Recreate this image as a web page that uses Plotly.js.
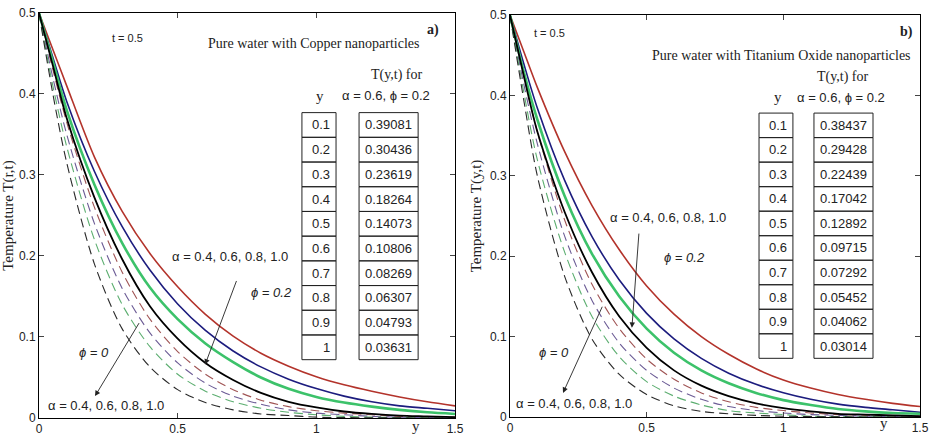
<!DOCTYPE html>
<html><head><meta charset="utf-8">
<script src="https://cdn.plot.ly/plotly-3.0.1.min.js"></script>
<style>body{margin:0;background:#fff}#g{width:933px;height:445px}</style>
</head><body><div id="g"></div>
<script>
// ---- data ----
const yPos = [0,0.05,0.1,0.2,0.3,0.4,0.5,0.6,0.7,0.8,0.9,1.0,1.1,1.2,1.3,1.4,1.5];
const alphas = ["0.4","0.6","0.8","1.0"];
// a) Copper, phi = 0.2 (solid)
const cuPhi02_a04 = [0.5,0.455,0.41,0.322,0.255,0.203,0.162,0.128,0.101,0.080,0.064,0.051,0.041,0.033,0.026,0.020,0.015];
const cuPhi02_a06 = [0.5,0.445,0.39081,0.30436,0.23619,0.18264,0.14073,0.10806,0.08269,0.06307,0.04793,0.03631,0.027,0.020,0.015,0.012,0.009];
const cuPhi02_a08 = [0.5,0.44,0.38,0.288,0.216,0.161,0.122,0.092,0.069,0.050,0.036,0.026,0.019,0.014,0.010,0.007,0.005];
const cuPhi02_a10 = [0.5,0.435,0.37,0.272,0.196,0.138,0.098,0.068,0.047,0.031,0.020,0.013,0.008,0.005,0.003,0.002,0.001];
// a) Copper, phi = 0 (dashed)
const cuPhi0_a04 = [0.5,0.43,0.365,0.26,0.18,0.122,0.082,0.054,0.035,0.022,0.014,0.009,0.006,0.004,0.002,0.0015,0.001];
const cuPhi0_a06 = [0.5,0.42,0.35,0.24,0.16,0.105,0.068,0.043,0.027,0.017,0.010,0.006,0.004,0.002,0.001,0.0005,0.0003];
const cuPhi0_a08 = [0.5,0.41,0.335,0.22,0.14,0.088,0.054,0.033,0.020,0.012,0.007,0.004,0.002,0.001,0.0005,0.0002,0.0001];
const cuPhi0_a10 = [0.5,0.40,0.315,0.19,0.11,0.063,0.035,0.019,0.010,0.005,0.003,0.001,0.0005,0.0002,0.0001,0,0];
// b) Titanium oxide, phi = 0.2 (solid)
const tiPhi02_a04 = [0.5,0.455,0.41,0.33,0.263,0.208,0.163,0.128,0.10,0.078,0.060,0.046,0.036,0.028,0.022,0.017,0.013];
const tiPhi02_a06 = [0.5,0.44,0.38437,0.29428,0.22439,0.17042,0.12892,0.09715,0.07292,0.05452,0.04062,0.03014,0.022,0.016,0.012,0.009,0.006];
const tiPhi02_a08 = [0.5,0.43,0.37,0.275,0.203,0.150,0.11,0.08,0.058,0.042,0.030,0.021,0.015,0.010,0.007,0.005,0.004];
const tiPhi02_a10 = [0.5,0.425,0.355,0.255,0.18,0.125,0.086,0.058,0.039,0.026,0.017,0.011,0.007,0.004,0.003,0.002,0.001];
// b) Titanium oxide, phi = 0 (dashed)
const tiPhi0_a04 = [0.5,0.425,0.355,0.245,0.165,0.11,0.072,0.047,0.030,0.019,0.012,0.008,0.005,0.003,0.002,0.001,0.001];
const tiPhi0_a06 = [0.5,0.415,0.34,0.225,0.145,0.092,0.058,0.036,0.022,0.013,0.008,0.005,0.003,0.002,0.001,0.0005,0.0003];
const tiPhi0_a08 = [0.5,0.405,0.32,0.205,0.125,0.075,0.044,0.026,0.015,0.008,0.005,0.003,0.001,0.0005,0.0002,0.0001,0];
const tiPhi0_a10 = [0.5,0.395,0.30,0.175,0.097,0.053,0.028,0.014,0.007,0.004,0.002,0.001,0.0005,0.0002,0,0,0];
// tables (alpha = 0.6, phi = 0.2)
const tableY = ["0.1","0.2","0.3","0.4","0.5","0.6","0.7","0.8","0.9","1"];
const cuTableT = ["0.39081","0.30436","0.23619","0.18264","0.14073","0.10806","0.08269","0.06307","0.04793","0.03631"];
const tiTableT = ["0.38437","0.29428","0.22439","0.17042","0.12892","0.09715","0.07292","0.05452","0.04062","0.03014"];
const xTicks = [0,0.5,1,1.5];
const xTickText = ["0","0.5","1","1.5"];
const yTicks = [0,0.1,0.2,0.3,0.4,0.5];
const yTickText = ["0","0.1","0.2","0.3","0.4","0.5"];

// ---- styles ----
const solidColors = ["#b3332b","#1c1c7e","#3cc26a","#000000"];
const solidWidths = [1.6,1.6,2.6,1.8];
const dashColors = ["#a05454","#6b5b95","#5cae70","#2a2a2a"];
const serif = "Liberation Serif, Times New Roman, serif";
const narrow = "Liberation Sans, Arial, sans-serif";
const nf = (s) => ({family:narrow, size:s, color:"#222"});

const panels = [
  {xa:"x", ya:"y", solid:[cuPhi02_a04,cuPhi02_a06,cuPhi02_a08,cuPhi02_a10], dash:[cuPhi0_a04,cuPhi0_a06,cuPhi0_a08,cuPhi0_a10]},
  {xa:"x2", ya:"y2", solid:[tiPhi02_a04,tiPhi02_a06,tiPhi02_a08,tiPhi02_a10], dash:[tiPhi0_a04,tiPhi0_a06,tiPhi0_a08,tiPhi0_a10]}
];
const traces = [];
panels.forEach(p => {
  p.dash.forEach((v,i) => traces.push({x:yPos, y:v, xaxis:p.xa, yaxis:p.ya, mode:"lines", name:"φ=0, α="+alphas[i],
    line:{color:dashColors[i], width:1.1, dash:"9px,5px", shape:"spline", smoothing:0.8}, hoverinfo:"skip"}));
  p.solid.forEach((v,i) => traces.push({x:yPos, y:v, xaxis:p.xa, yaxis:p.ya, mode:"lines", name:"φ=0.2, α="+alphas[i],
    line:{color:solidColors[i], width:solidWidths[i], shape:"spline", smoothing:0.8}, hoverinfo:"skip"}));
});

function axX(dom){ return {domain:dom, range:[0,1.5], tickvals:xTicks, ticktext:xTickText, ticks:"inside", ticklen:5,
  showline:true, mirror:"ticks", linecolor:"#000", linewidth:1, showgrid:false, zeroline:false,
  tickfont:nf(12)}; }
function axY(dom, title){ return {domain:dom, range:[0,0.5], tickvals:yTicks, ticktext:yTickText, ticks:"inside", ticklen:5,
  showline:true, mirror:"ticks", linecolor:"#000", linewidth:1, showgrid:false, zeroline:false,
  tickfont:nf(12),
  title:{text:title, font:{family:serif, size:15, color:"#222"}, standoff:4}}; }

const ann = [];
const shapes = [];
function txt(xr, yr, x, y, text, opt){ ann.push(Object.assign({xref:xr, yref:yr, x:x, y:y, text:text, showarrow:false,
  font:{family:serif, size:14, color:"#222"}}, opt||{})); }

// Panel a)
txt("x","y",0.32,0.469,"t = 0.5",{font:nf(11)});
txt("x","y",0.99,0.462,"Pure water with Copper nanoparticles");
txt("x","y",1.42,0.479,"<b>a)</b>");
txt("x","y",1.29,0.424,"T(y,t) for");
txt("x","y",1.013,0.398,"y",{font:{family:serif,size:15,color:"#222"}});
txt("x","y",1.25,0.398,"α = 0.6, ϕ = 0.2",{font:nf(13)});
txt("x","y",0.69,0.199,"α = 0.4, 0.6, 0.8, 1.0",{font:nf(13)});
txt("x","y",0.84,0.155,"<i>ϕ = 0.2</i>",{font:nf(13)});
txt("x","y",0.2,0.081,"<i>ϕ = 0</i>",{font:nf(13)});
txt("x","y",0.24,0.015,"α = 0.4, 0.6, 0.8, 1.0",{font:nf(13)});
txt("x domain","y domain",0.92,-0.045,"y",{font:{family:serif,size:15,color:"#222"}});
ann.push({xref:"x",yref:"y",axref:"x",ayref:"y",x:0.599,y:0.066,ax:0.714,ay:0.171,showarrow:true,arrowhead:2,arrowsize:1.2,arrowwidth:0.9,arrowcolor:"#222",text:""});
ann.push({xref:"x",yref:"y",axref:"x",ayref:"y",x:0.202,y:0.027,ax:0.364,ay:0.119,showarrow:true,arrowhead:2,arrowsize:1.2,arrowwidth:0.9,arrowcolor:"#222",text:""});

// Panel b)
txt("x2","y2",0.143,0.478,"t = 0.5",{font:nf(11)});
txt("x2","y2",0.992,0.45,"Pure water with Titanium Oxide nanoparticles");
txt("x2","y2",1.45,0.479,"<b>b)</b>");
txt("x2","y2",1.218,0.423,"T(y,t) for");
txt("x2","y2",0.98,0.398,"y",{font:{family:serif,size:15,color:"#222"}});
txt("x2","y2",1.21,0.398,"α = 0.6, ϕ = 0.2",{font:nf(13)});
txt("x2","y2",0.578,0.248,"α = 0.4, 0.6, 0.8, 1.0",{font:nf(13)});
txt("x2","y2",0.64,0.198,"<i>ϕ = 0.2</i>",{font:nf(13)});
txt("x2","y2",0.161,0.08,"<i>ϕ = 0</i>",{font:nf(13)});
txt("x2","y2",0.235,0.017,"α = 0.4, 0.6, 0.8, 1.0",{font:nf(13)});
txt("x2 domain","y2 domain",0.927,-0.04,"y",{font:{family:serif,size:15,color:"#222"}});
ann.push({xref:"x2",yref:"y2",axref:"x2",ayref:"y2",x:0.446,y:0.111,ax:0.472,ay:0.230,showarrow:true,arrowhead:2,arrowsize:1.2,arrowwidth:0.9,arrowcolor:"#222",text:""});
ann.push({xref:"x2",yref:"y2",axref:"x2",ayref:"y2",x:0.194,y:0.030,ax:0.340,ay:0.139,showarrow:true,arrowhead:2,arrowsize:1.2,arrowwidth:0.9,arrowcolor:"#222",text:""});

// tables
function table(xr, yr, c1, c2, top, rowH, labels, vals){
  labels.forEach((lab,i) => {
    const y1 = top - i*rowH, y0 = y1 - rowH;
    shapes.push({type:"rect", xref:xr, yref:yr, x0:c1[0], x1:c1[1], y0:y0, y1:y1, line:{color:"#222", width:1}});
    shapes.push({type:"rect", xref:xr, yref:yr, x0:c2[0], x1:c2[1], y0:y0, y1:y1, line:{color:"#222", width:1}});
    ann.push({xref:xr, yref:yr, x:c1[1]-0.015, y:(y0+y1)/2, xanchor:"right", text:lab, showarrow:false, font:nf(13)});
    ann.push({xref:xr, yref:yr, x:c2[1]-0.015, y:(y0+y1)/2, xanchor:"right", text:vals[i], showarrow:false, font:nf(13)});
  });
}
table("x","y",[0.948,1.071],[1.154,1.367],0.377,0.0305,tableY,cuTableT);
table("x2","y2",[0.911,1.035],[1.112,1.328],0.378,0.0305,tableY,tiTableT);

const layout = {
  width:933, height:445, margin:{l:0,r:0,t:0,b:0}, showlegend:false,
  paper_bgcolor:"#fff", plot_bgcolor:"#fff",
  xaxis: Object.assign(axX([0.0418,0.4877]), {anchor:"y"}),
  yaxis: Object.assign(axY([0.0607,0.9708],"Temperature T(r,t)"), {anchor:"x"}),
  xaxis2: Object.assign(axX([0.5466,0.9861]), {anchor:"y2"}),
  yaxis2: Object.assign(axY([0.0629,0.9663],"Temperature T(y,t)"), {anchor:"x2"}),
  annotations: ann, shapes: shapes
};
Plotly.newPlot("g", traces, layout, {displayModeBar:false, staticPlot:true});
</script></body></html>
